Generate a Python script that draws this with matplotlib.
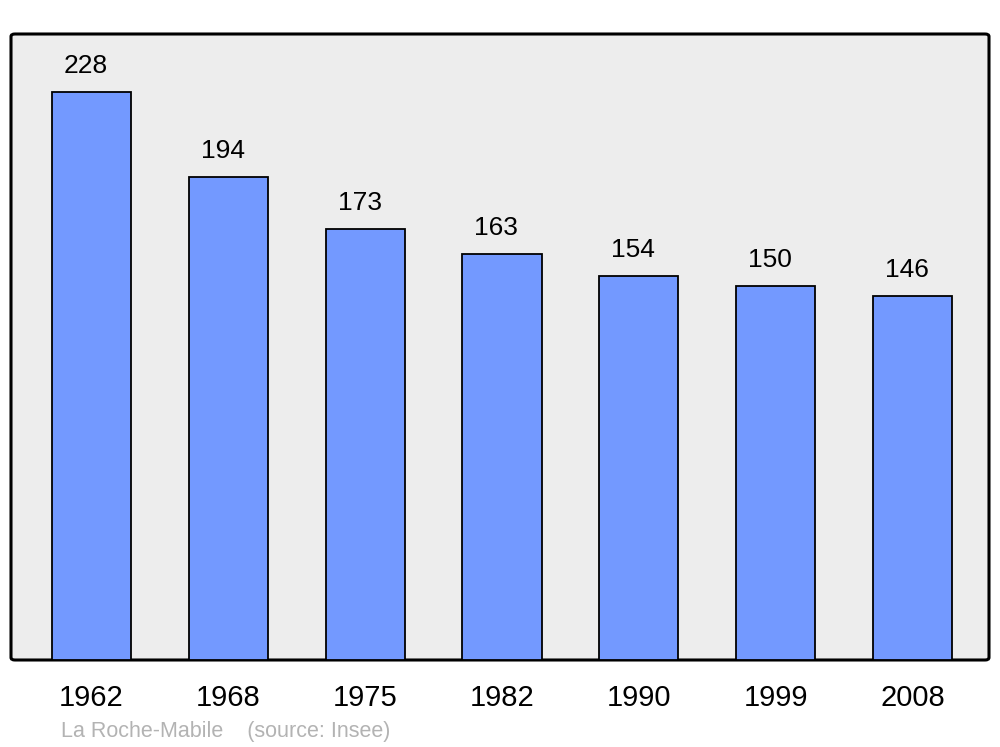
import matplotlib
matplotlib.use("Agg")
import matplotlib.pyplot as plt
from matplotlib.patches import FancyBboxPatch

years = ["1962", "1968", "1975", "1982", "1990", "1999", "2008"]
population = [228, 194, 173, 163, 154, 150, 146]
commune = "La Roche-Mabile"
source = "(source: Insee)"

plt.rcParams['font.family'] = ['Liberation Sans', 'DejaVu Sans']

fig = plt.figure(figsize=(10, 7.47), dpi=100)
ax = fig.add_axes([0.011, 1 - 660 / 747, 0.978, (660 - 34) / 747])
ax.set_facecolor('none')

# rounded frame
frame = FancyBboxPatch((0, 0), 1, 1, boxstyle="round,pad=0,rounding_size=0.004",
                       transform=ax.transAxes, facecolor='#ededed', edgecolor='black',
                       linewidth=2.2, zorder=0, clip_on=False)
ax.add_patch(frame)

x = list(range(len(years)))
bars = ax.bar(x, population, width=0.578, color='#7399ff', edgecolor='black',
              linewidth=1.3, zorder=2)

for xi, v in zip(x, population):
    ax.annotate(str(v), (xi, v), xytext=(-4, 18.8), textcoords='offset points',
                ha='center', va='center', fontsize=19, color='black')

ax.set_xlim(-0.588, 6.559)
ax.set_ylim(0, 251.3)
ax.set_xticks(x)
ax.set_xticklabels(years, fontsize=21)
ax.tick_params(axis='x', length=0, pad=17.5)
ax.set_yticks([])
for s in ax.spines.values():
    s.set_visible(False)
for lbl in ax.get_xticklabels():
    lbl.set_x(lbl.get_position()[0])

fig.text(0.061, 1 - 731 / 747, commune + "    " + source, color='#b3b3b3',
         fontsize=15.5, ha='left', va='center')

fig.savefig("out.png", dpi=100)
